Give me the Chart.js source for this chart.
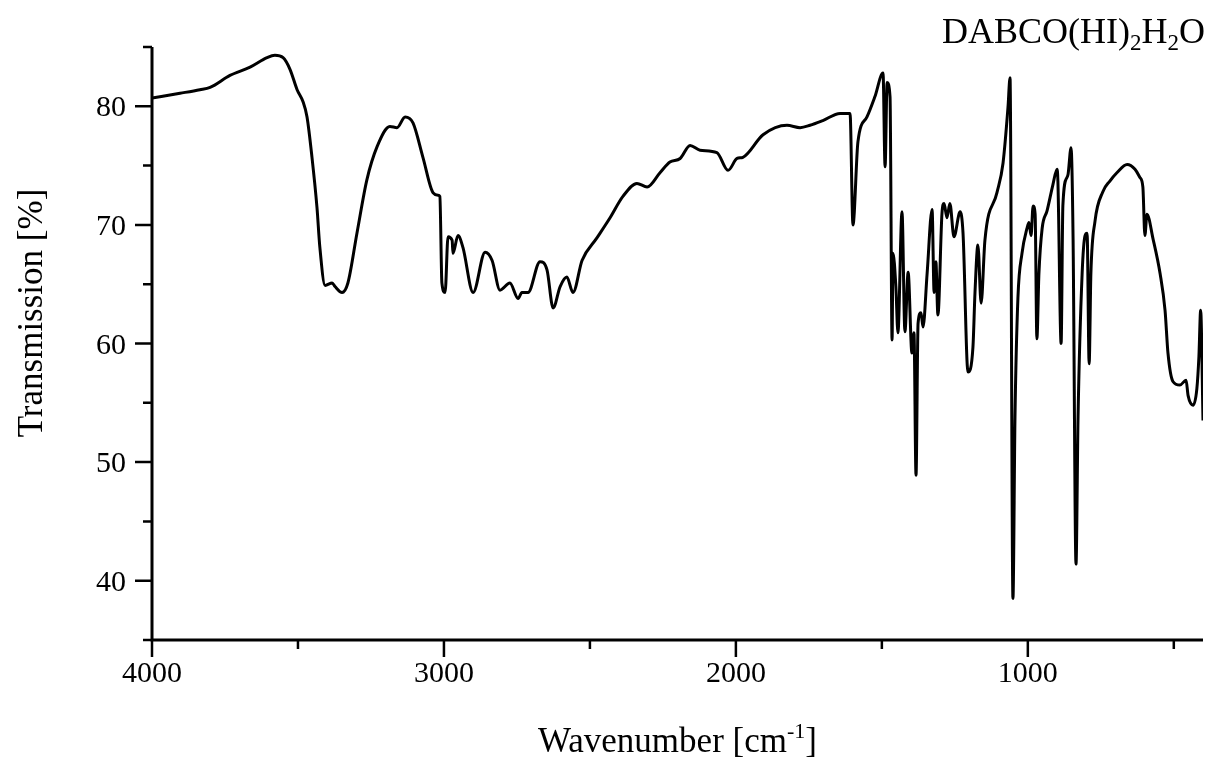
<!DOCTYPE html>
<html>
<head>
<meta charset="utf-8">
<title>DABCO(HI)2H2O IR spectrum</title>
<script src="https://cdn.jsdelivr.net/npm/chart.js@4.4.1/dist/chart.umd.min.js"></script>
<style>
  body { margin: 0; background: #fff; }
  #wrap { width: 1208px; height: 762px; position: relative; }
</style>
</head>
<body>
<div id="wrap"><canvas id="irChart"></canvas></div>
<script>
// spectrum: wavenumber (cm-1) and transmission (%)
const wavenumber = [
  4000, 3904, 3836, 3801, 3733, 3664, 3606, 3579, 3551, 3527, 3503, 3483, 3469, 3452, 3435,
  3425, 3407, 3383, 3373, 3349, 3329, 3298, 3264, 3229, 3185, 3161, 3133, 3106, 3072, 3037,
  3020, 3014, 3007, 2996, 2986, 2972, 2969, 2952, 2935, 2900, 2859, 2835, 2808, 2774, 2746,
  2733, 2712, 2671, 2647, 2626, 2602, 2579, 2558, 2527, 2476, 2431, 2387, 2339, 2304, 2260,
  2226, 2191, 2157, 2123, 2065, 2027, 1996, 1976, 1907, 1825, 1780, 1746, 1702, 1643, 1609,
  1599, 1582, 1551, 1524, 1496, 1489, 1482, 1472, 1465, 1462, 1452, 1445, 1431, 1421, 1410,
  1397, 1390, 1383, 1376, 1366, 1359, 1345, 1328, 1321, 1315, 1308, 1294, 1287, 1277, 1267,
  1253, 1232, 1222, 1205, 1188, 1181, 1171, 1160, 1147, 1106, 1085, 1068, 1061, 1051, 1044,
  1034, 1020, 1003, 996, 989, 982, 975, 969, 962, 951, 934, 914, 900, 897, 886,
  880, 866, 862, 852, 845, 835, 828, 814, 804, 797, 790, 784, 770, 743, 719,
  695, 660, 633, 616, 606, 599, 592, 571, 547, 530, 520, 503, 479, 458, 451,
  434, 421, 414, 408, 400
];
const transmission = [
  80.7, 81.1, 81.4, 81.6, 82.6, 83.3, 84.1, 84.3, 84.1, 83.1, 81.4, 80.4, 79.1, 75.7, 71.5,
  68.1, 64.9, 65.1, 64.8, 64.3, 65.1, 69.3, 73.8, 76.6, 78.3, 78.2, 79.1, 78.6, 75.7, 72.7,
  72.5, 72.4, 65.1, 64.3, 69.0, 68.7, 67.6, 69.1, 68.1, 64.3, 67.7, 67.0, 64.5, 65.1, 63.8,
  64.3, 64.3, 66.9, 66.2, 63.0, 64.8, 65.6, 64.3, 67.0, 68.9, 70.6, 72.4, 73.5, 73.2, 74.4,
  75.3, 75.6, 76.7, 76.3, 76.1, 74.6, 75.6, 75.7, 77.6, 78.4, 78.2, 78.4, 78.8, 79.4, 79.4,
  70.0, 77.0, 79.1, 80.8, 82.8, 74.9, 82.0, 80.8, 60.3, 67.6, 64.8, 60.9, 71.1, 61.0, 66.0,
  59.2, 60.9, 48.9, 61.7, 62.6, 61.4, 65.9, 71.3, 64.3, 66.9, 62.4, 71.0, 71.8, 70.6, 71.8,
  69.0, 71.1, 69.3, 57.6, 59.7, 64.3, 68.3, 63.4, 68.7, 72.7, 75.2, 79.9, 82.4, 38.5, 53.8,
  63.8, 67.6, 69.7, 70.2, 69.1, 71.6, 70.9, 60.4, 65.9, 69.7, 71.2, 73.4, 74.7, 73.7, 60.0,
  71.6, 74.0, 74.3, 76.5, 68.8, 41.4, 53.8, 65.9, 69.1, 69.3, 58.3, 65.9, 70.3, 72.8, 73.7,
  74.4, 75.1, 74.7, 74.0, 73.2, 69.1, 70.9, 68.8, 65.9, 62.8, 59.2, 56.8, 56.5, 56.9, 55.6,
  54.8, 56.2, 58.9, 62.8, 53.5
];

const xMajorTicks = [4000, 3000, 2000, 1000];
const xMinorTicks = [3500, 2500, 1500, 500];
const yMajorTicks = [80, 70, 60, 50, 40];
const yMinorTicks = [85, 75, 65, 55, 45, 35];

const serif = '"Liberation Serif", "Times New Roman", serif';

function drawRuns(ctx, runs, x, y, align) {
  let total = 0;
  runs.forEach(r => {
    ctx.font = r.size + 'px ' + serif;
    r.w = ctx.measureText(r.text).width;
    total += r.w;
  });
  let cx = align === 'right' ? x - total : align === 'center' ? x - total / 2 : x;
  runs.forEach(r => {
    ctx.font = r.size + 'px ' + serif;
    ctx.fillText(r.text, cx, y + (r.dy || 0));
    cx += r.w;
  });
}

const axesPlugin = {
  id: 'axesPlugin',
  afterDraw(chart) {
    const ctx = chart.ctx;
    const xs = chart.scales.x, ys = chart.scales.y;
    const a = chart.chartArea;
    ctx.save();
    ctx.strokeStyle = '#000';
    ctx.fillStyle = '#000';
    ctx.lineWidth = 3;
    ctx.lineCap = 'butt';

    // axis lines
    ctx.beginPath();
    ctx.moveTo(a.left, a.top);
    ctx.lineTo(a.left, a.bottom);
    ctx.moveTo(a.left - 1.5, a.bottom);
    ctx.lineTo(a.right, a.bottom);
    ctx.stroke();

    ctx.lineWidth = 2.5;
    ctx.beginPath();
    xMajorTicks.forEach(v => {
      const px = xs.getPixelForValue(v);
      ctx.moveTo(px, a.bottom);
      ctx.lineTo(px, a.bottom + 17);
    });
    xMinorTicks.forEach(v => {
      const px = xs.getPixelForValue(v);
      ctx.moveTo(px, a.bottom);
      ctx.lineTo(px, a.bottom + 9);
    });
    yMajorTicks.forEach(v => {
      const py = ys.getPixelForValue(v);
      ctx.moveTo(a.left, py);
      ctx.lineTo(a.left - 17, py);
    });
    yMinorTicks.forEach(v => {
      const py = ys.getPixelForValue(v);
      ctx.moveTo(a.left, py);
      ctx.lineTo(a.left - 9, py);
    });
    ctx.stroke();

    // tick labels
    ctx.textBaseline = 'alphabetic';
    xMajorTicks.forEach(v => {
      drawRuns(ctx, [{ text: String(v), size: 30 }], xs.getPixelForValue(v), a.bottom + 42, 'center');
    });
    yMajorTicks.forEach(v => {
      drawRuns(ctx, [{ text: String(v), size: 30 }], a.left - 26, ys.getPixelForValue(v) + 10, 'right');
    });

    // x title
    drawRuns(ctx, [
      { text: 'Wavenumber [cm', size: 35 },
      { text: '-1', size: 22, dy: -14 },
      { text: ']', size: 35 }
    ], (a.left + a.right) / 2, 752, 'center');

    // y title
    ctx.save();
    ctx.translate(42, 313);
    ctx.rotate(-Math.PI / 2);
    drawRuns(ctx, [{ text: 'Transmission [%]', size: 35 }], 0, 0, 'center');
    ctx.restore();

    // compound label
    drawRuns(ctx, [
      { text: 'DABCO(HI)', size: 36 },
      { text: '2', size: 23, dy: 7 },
      { text: 'H', size: 36 },
      { text: '2', size: 23, dy: 7 },
      { text: 'O', size: 36 }
    ], 1205, 43, 'right');

    ctx.restore();
  }
};

const points = wavenumber.map((w, i) => ({ x: w, y: transmission[i] }));

new Chart(document.getElementById('irChart'), {
  type: 'line',
  data: {
    datasets: [{
      data: points,
      borderColor: '#000',
      borderWidth: 3,
      pointRadius: 0,
      fill: false,
      cubicInterpolationMode: 'monotone'
    }]
  },
  options: {
    responsive: true,
    maintainAspectRatio: false,
    animation: false,
    devicePixelRatio: 1,
    layout: { padding: { left: 152, right: 5, top: 47, bottom: 122 } },
    plugins: { legend: { display: false }, tooltip: { enabled: false } },
    scales: {
      x: { type: 'linear', reverse: true, min: 400, max: 4000, display: false },
      y: { type: 'linear', min: 35, max: 85, display: false }
    }
  },
  plugins: [axesPlugin]
});
</script>
</body>
</html>
